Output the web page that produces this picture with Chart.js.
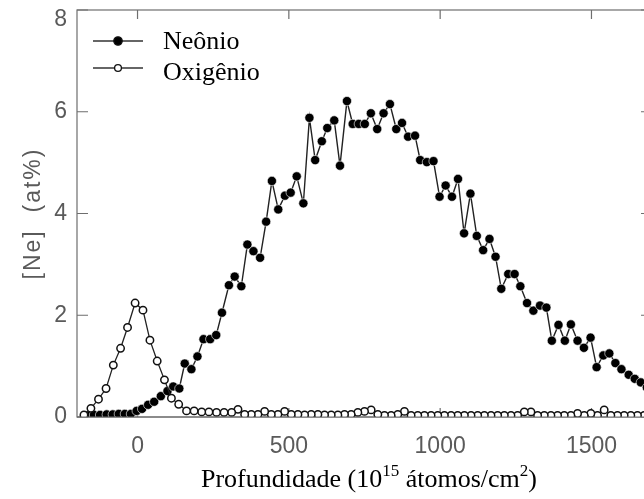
<!DOCTYPE html>
<html lang="pt">
<head>
<meta charset="UTF-8">
<title>Perfil de neônio e oxigênio</title>
<script src="https://cdn.jsdelivr.net/npm/chart.js"></script>
<style>
  html, body { margin: 0; padding: 0; background: #fff; overflow: hidden; }
  #wrap { position: relative; width: 660px; height: 499px; }
</style>
</head>
<body>
<div id="wrap"><canvas id="perfil"></canvas></div>
<script>
// profundidade (10^15 átomos/cm2) e concentração (at%)
const neonDepth = [-164, -144, -124, -102, -82, -62, -42, -22, -3, 15,
  35, 55, 77, 99, 118, 138, 156, 178, 198, 218,
  240, 260, 279, 302, 321, 343, 363, 383, 405, 425,
  444, 465, 487, 506, 526, 548, 568, 587, 609, 627,
  650, 669, 692, 711, 731, 751, 771, 792, 813, 834,
  855, 874, 894, 917, 934, 956, 978, 998, 1018, 1039,
  1059, 1079, 1100, 1121, 1142, 1163, 1183, 1202, 1225, 1246,
  1265, 1287, 1308, 1330, 1351, 1369, 1391, 1412, 1432, 1454,
  1475, 1497, 1517, 1539, 1559, 1579, 1599, 1623, 1643, 1663, 1683];
const neonConc = [0.03, 0.04, 0.04, 0.05, 0.05, 0.06, 0.06, 0.06, 0.12, 0.16,
  0.24, 0.30, 0.41, 0.51, 0.60, 0.56, 1.05, 0.94, 1.19, 1.53,
  1.53, 1.61, 2.05, 2.59, 2.76, 2.57, 3.39, 3.26, 3.13, 3.84,
  4.64, 4.08, 4.35, 4.41, 4.73, 4.20, 5.88, 5.05, 5.42, 5.68,
  5.83, 4.94, 6.21, 5.76, 5.76, 5.76, 5.97, 5.66, 5.97, 6.15,
  5.66, 5.78, 5.51, 5.53, 5.05, 5.01, 5.03, 4.33, 4.55, 4.33,
  4.68, 3.61, 4.39, 3.56, 3.28, 3.50, 3.15, 2.52, 2.81, 2.81,
  2.57, 2.24, 2.09, 2.19, 2.15, 1.50, 1.81, 1.50, 1.82, 1.50,
  1.36, 1.56, 0.98, 1.21, 1.25, 1.06, 0.94, 0.83, 0.75, 0.68, 0.58];

const oxyDepth = [-177, -154, -129, -104, -80, -56, -33, -8, 18, 41,
  65, 89, 112, 136, 162, 187, 212, 236, 261, 286,
  311, 332, 354, 376, 398, 420, 442, 464, 486, 508,
  530, 552, 574, 596, 618, 640, 662, 684, 706, 728,
  750, 772, 794, 816, 838, 860, 882, 904, 926, 948,
  970, 992, 1014, 1036, 1058, 1080, 1102, 1124, 1146, 1168,
  1190, 1212, 1234, 1256, 1278, 1300, 1322, 1344, 1366, 1388,
  1410, 1432, 1454, 1476, 1498, 1520, 1542, 1564, 1586, 1608,
  1630, 1652, 1674];
const oxyConc = [0.04, 0.17, 0.35, 0.56, 1.02, 1.35, 1.76, 2.24, 2.10, 1.51,
  1.10, 0.73, 0.37, 0.25, 0.12, 0.12, 0.10, 0.10, 0.09, 0.09,
  0.09, 0.15, 0.05, 0.05, 0.05, 0.11, 0.05, 0.05, 0.11, 0.05,
  0.05, 0.04, 0.05, 0.05, 0.04, 0.04, 0.04, 0.05, 0.05, 0.09,
  0.11, 0.14, 0.05, 0.03, 0.03, 0.05, 0.11, 0.03, 0.03, 0.03,
  0.03, 0.03, 0.03, 0.03, 0.03, 0.03, 0.03, 0.03, 0.03, 0.03,
  0.03, 0.03, 0.03, 0.03, 0.10, 0.10, 0.03, 0.03, 0.03, 0.03,
  0.03, 0.03, 0.07, 0.03, 0.07, 0.03, 0.14, 0.03, 0.03, 0.03,
  0.03, 0.03, 0.03];

const xTicks = [0, 500, 1000, 1500];
const yTicks = [0, 2, 4, 6, 8];

const sans = '"Liberation Sans", Arial, sans-serif';
const serif = '"Liberation Serif", "Times New Roman", serif';

// moldura com marcas para dentro, rótulos, títulos e legenda
const moldura = {
  id: 'moldura',
  beforeDatasetsDraw(chart) {
    const { ctx, chartArea: a, scales: { x, y } } = chart;
    ctx.save();
    ctx.strokeStyle = '#6e6e6e';
    ctx.lineWidth = 1.2;
    ctx.strokeRect(a.left, a.top, a.right - a.left, a.bottom - a.top);
    ctx.beginPath();
    xTicks.forEach(v => {
      const px = x.getPixelForValue(v);
      ctx.moveTo(px, a.top); ctx.lineTo(px, a.top + 9);
      ctx.moveTo(px, a.bottom); ctx.lineTo(px, a.bottom - 9);
    });
    yTicks.forEach(v => {
      const py = y.getPixelForValue(v);
      ctx.moveTo(a.left, py); ctx.lineTo(a.left + 11, py);
      ctx.moveTo(a.right, py); ctx.lineTo(a.right - 11, py);
    });
    ctx.stroke();
    ctx.restore();
  },
  afterDatasetsDraw(chart) {
    const { ctx, chartArea: a } = chart;
    ctx.save();
    ctx.strokeStyle = '#6e6e6e';
    ctx.lineWidth = 1.2;
    ctx.beginPath();
    ctx.moveTo(a.left, a.bottom); ctx.lineTo(a.right, a.bottom);
    ctx.stroke();
    ctx.restore();
  },
  afterDraw(chart) {
    const { ctx, chartArea: a, scales: { x, y } } = chart;
    ctx.save();

    // rótulos dos eixos
    ctx.fillStyle = '#5a5a5a';
    ctx.font = '23px ' + sans;
    ctx.textAlign = 'center';
    ctx.textBaseline = 'alphabetic';
    xTicks.forEach(v => ctx.fillText(String(v), x.getPixelForValue(v), a.bottom + 36));
    ctx.textAlign = 'right';
    ctx.textBaseline = 'middle';
    yTicks.forEach(v => {
      const py = Math.max(y.getPixelForValue(v), a.top + 10);
      ctx.fillText(String(v), a.left - 10, py);
    });

    // título do eixo y
    ctx.save();
    ctx.translate(34, (a.top + a.bottom) / 2);
    ctx.rotate(-Math.PI / 2);
    ctx.textAlign = 'center';
    ctx.letterSpacing = '2px';
    ctx.fillText('[Ne]  (at%)', 0, 0);
    ctx.restore();

    // título do eixo x com expoentes
    const parts = [['Profundidade (10', false], ['15', true], [' átomos/cm', false], ['2', true], [')', false]];
    const big = '26px ' + serif, small = '17px ' + serif;
    let total = 0;
    parts.forEach(([t, sup]) => { ctx.font = sup ? small : big; total += ctx.measureText(t).width; });
    let cx = 369 - total / 2;
    ctx.fillStyle = '#000';
    ctx.textAlign = 'left';
    ctx.textBaseline = 'alphabetic';
    parts.forEach(([t, sup]) => {
      ctx.font = sup ? small : big;
      ctx.fillText(t, cx, sup ? 476 : 487);
      cx += ctx.measureText(t).width;
    });

    // legenda
    const entries = [
      { label: 'Neônio', ly: 41, ty: 49, fill: '#000', r: 4.2 },
      { label: 'Oxigênio', ly: 68, ty: 80, fill: '#fff', r: 3.4 }
    ];
    ctx.font = '26px ' + serif;
    entries.forEach(e => {
      ctx.strokeStyle = '#333';
      ctx.lineWidth = 1.3;
      ctx.beginPath();
      ctx.moveTo(a.left + 16, e.ly); ctx.lineTo(a.left + 66, e.ly);
      ctx.stroke();
      ctx.beginPath();
      ctx.arc(a.left + 41, e.ly, e.r, 0, Math.PI * 2);
      ctx.fillStyle = e.fill;
      ctx.fill();
      ctx.strokeStyle = '#111';
      ctx.lineWidth = 1.3;
      ctx.stroke();
      ctx.fillStyle = '#000';
      ctx.fillText(e.label, a.left + 86, e.ty);
    });
    ctx.restore();
  }
};

const neonPts = neonDepth.map((d, i) => ({ x: d, y: neonConc[i] }));
// desenhado da direita para a esquerda, como no original
const oxyPts = oxyDepth.map((d, i) => ({ x: d, y: oxyConc[i] })).reverse();

new Chart(document.getElementById('perfil'), {
  type: 'scatter',
  data: {
    datasets: [
      {
        label: 'Oxigênio',
        data: oxyPts,
        showLine: true,
        borderColor: '#222',
        borderWidth: 1.3,
        pointRadius: 3.7,
        pointBackgroundColor: '#fff',
        pointBorderColor: '#111',
        pointBorderWidth: 1.5
      },
      {
        label: 'Neônio',
        data: neonPts,
        showLine: true,
        borderColor: '#222',
        borderWidth: 1.4,
        pointRadius: 4.6,
        pointBackgroundColor: '#000',
        pointBorderColor: '#fff',
        pointBorderWidth: 0.6
      }
    ]
  },
  options: {
    responsive: true,
    maintainAspectRatio: false,
    animation: false,
    layout: { padding: { left: 77, right: 8, top: 10, bottom: 82 } },
    plugins: { legend: { display: false }, tooltip: { enabled: false } },
    scales: {
      x: { type: 'linear', min: -200, max: 1700, display: false },
      y: { min: 0, max: 8, display: false }
    }
  },
  plugins: [moldura]
});
</script>
</body>
</html>
